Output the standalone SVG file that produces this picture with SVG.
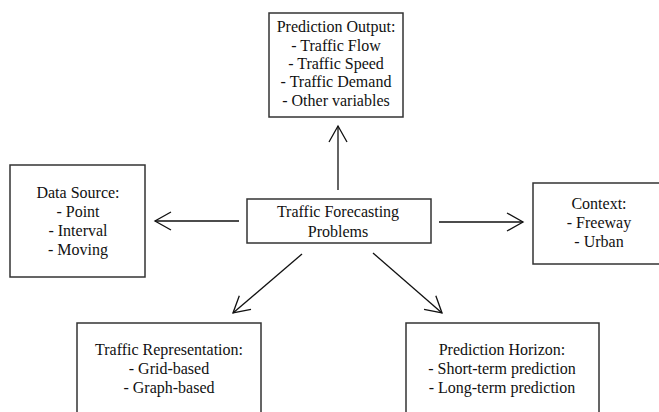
<svg xmlns="http://www.w3.org/2000/svg" width="659" height="412" viewBox="0 0 659 412">
<defs>
<style>
.box{fill:#fff;stroke:#333;stroke-width:1.5}
.t{font-size:16px;fill:#111;text-anchor:middle}
.c{stroke:#111;stroke-width:1.3;fill:none;marker-end:url(#ah)}
</style>
<marker id="ah" markerUnits="userSpaceOnUse" markerWidth="30" markerHeight="30" refX="0" refY="0" viewBox="-20 -15 30 30" orient="auto" overflow="visible">
<path d="M -16 -9 L 0 0 L -16 9" fill="none" stroke="#111" stroke-width="1.3"/>
</marker>
</defs>
<rect width="659" height="412" fill="#fff"/>
<g id="connectors">
<line class="c" x1="338" y1="190" x2="338" y2="126"/>
<line class="c" x1="239" y1="221" x2="155" y2="221"/>
<line class="c" x1="439" y1="222" x2="523" y2="222"/>
<line class="c" x1="302" y1="254" x2="233" y2="313"/>
<line class="c" x1="373" y1="253" x2="442" y2="313"/>
</g>
<g font-family="Liberation Serif, Times New Roman, serif">
<g id="center">
<rect class="box" x="247" y="199" width="184" height="44"/>
<text class="t" x="338" y="217">Traffic Forecasting</text>
<text class="t" x="338" y="237">Problems</text>
</g>
<g id="output">
<rect class="box" x="269" y="13" width="134" height="104"/>
<text class="t" x="336" y="32">Prediction Output:</text>
<text class="t" x="336" y="51">- Traffic Flow</text>
<text class="t" x="336" y="69">- Traffic Speed</text>
<text class="t" x="336" y="87">- Traffic Demand</text>
<text class="t" x="336" y="106">- Other variables</text>
</g>
<g id="datasource">
<rect class="box" x="10" y="165" width="135" height="112"/>
<text class="t" x="78" y="198">Data Source:</text>
<text class="t" x="78" y="217">- Point</text>
<text class="t" x="78" y="236">- Interval</text>
<text class="t" x="78" y="255">- Moving</text>
</g>
<g id="context">
<rect class="box" x="533" y="183" width="140" height="81"/>
<text class="t" x="599" y="209">Context:</text>
<text class="t" x="599" y="228">- Freeway</text>
<text class="t" x="599" y="247">- Urban</text>
</g>
<g id="representation">
<rect class="box" x="77" y="323" width="184" height="100"/>
<text class="t" x="169" y="355">Traffic Representation:</text>
<text class="t" x="169" y="374">- Grid-based</text>
<text class="t" x="169" y="393">- Graph-based</text>
</g>
<g id="horizon">
<rect class="box" x="406" y="323" width="193" height="100"/>
<text class="t" x="502" y="355">Prediction Horizon:</text>
<text class="t" x="502" y="374">- Short-term prediction</text>
<text class="t" x="502" y="393">- Long-term prediction</text>
</g>
</g>
</svg>
